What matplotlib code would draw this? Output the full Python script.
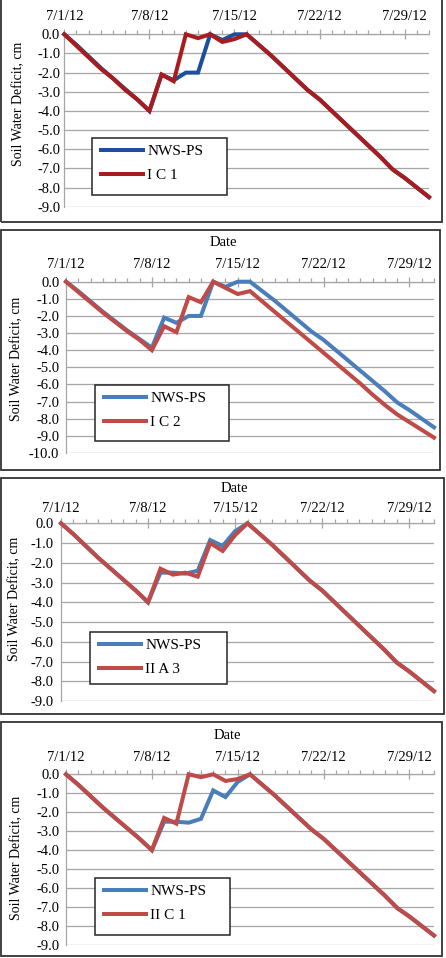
import matplotlib
matplotlib.use('Agg')
import matplotlib.pyplot as plt
import matplotlib.dates as mdates
from matplotlib.patches import Rectangle
from matplotlib.ticker import FormatStrFormatter, MultipleLocator
import pandas as pd

plt.rcParams['font.family'] = ['Liberation Serif', 'DejaVu Serif']
plt.rcParams['axes.unicode_minus'] = False

# --- data (soil water deficit, cm), one value per day 7/1/12 .. 7/31/12 ---
dates = pd.date_range('2012-07-01', '2012-07-31', freq='D')
date_ticks = ['7/1/12', '7/8/12', '7/15/12', '7/22/12', '7/29/12']
series_names = ['I C 1', 'I C 2', 'II A 3', 'II C 1']

nws_a = [0.0, -0.55, -1.15, -1.75, -2.3, -2.85, -3.4, -4.0, -2.1, -2.4, -2.0,
         -2.0, 0.0, -0.3, 0.0, 0.0, -0.55, -1.1, -1.7, -2.3, -2.9, -3.4, -4.0,
         -4.6, -5.2, -5.8, -6.4, -7.05, -7.5, -8.0, -8.5]
ic1 = [0.0, -0.6, -1.2, -1.8, -2.3, -2.9, -3.4, -4.0, -2.1, -2.45, 0.0,
       -0.2, 0.0, -0.4, -0.25, 0.0, -0.55, -1.1, -1.7, -2.3, -2.9, -3.4, -4.0,
       -4.6, -5.2, -5.8, -6.4, -7.05, -7.5, -8.0, -8.5]

nws_b = [0.0, -0.55, -1.15, -1.75, -2.3, -2.85, -3.35, -3.85, -2.1, -2.4, -2.0,
         -2.0, 0.0, -0.3, 0.0, 0.0, -0.55, -1.1, -1.7, -2.3, -2.9, -3.4, -4.0,
         -4.6, -5.2, -5.8, -6.4, -7.05, -7.5, -8.0, -8.5]
ic2 = [0.0, -0.6, -1.2, -1.8, -2.35, -2.9, -3.4, -4.0, -2.6, -2.95, -0.9,
       -1.2, 0.0, -0.36, -0.72, -0.55, -1.15, -1.75, -2.35, -2.95, -3.55, -4.15,
       -4.75, -5.35, -5.95, -6.6, -7.2, -7.75, -8.2, -8.65, -9.1]

nws_c = [0.0, -0.55, -1.15, -1.75, -2.3, -2.85, -3.4, -4.0, -2.5, -2.5, -2.55,
         -2.4, -0.85, -1.15, -0.4, 0.0, -0.55, -1.1, -1.7, -2.3, -2.9, -3.4, -4.0,
         -4.6, -5.2, -5.8, -6.4, -7.05, -7.5, -8.0, -8.5]
iia3 = [0.0, -0.55, -1.15, -1.75, -2.3, -2.85, -3.4, -4.0, -2.3, -2.6, -2.5,
        -2.7, -1.0, -1.4, -0.6, 0.0, -0.55, -1.1, -1.7, -2.3, -2.9, -3.4, -4.0,
        -4.6, -5.2, -5.8, -6.4, -7.05, -7.5, -8.0, -8.5]

nws_d = [0.0, -0.55, -1.15, -1.75, -2.3, -2.85, -3.4, -4.0, -2.5, -2.5, -2.55,
         -2.35, -0.85, -1.2, -0.4, 0.0, -0.55, -1.1, -1.7, -2.3, -2.9, -3.4, -4.0,
         -4.6, -5.2, -5.8, -6.4, -7.05, -7.5, -8.0, -8.5]
iic1 = [0.0, -0.55, -1.15, -1.75, -2.3, -2.85, -3.4, -4.0, -2.3, -2.6, 0.0,
        -0.15, 0.0, -0.35, -0.25, 0.0, -0.55, -1.1, -1.7, -2.3, -2.9, -3.4, -4.0,
        -4.6, -5.2, -5.8, -6.4, -7.05, -7.5, -8.0, -8.5]

nws_series = [nws_a, nws_b, nws_c, nws_d]
model_series = [ic1, ic2, iia3, iic1]
y_bottoms = [-9, -10, -9, -9]

# --- layout, in pixels of the 446 x 958 picture ---
W, H = 446, 958
# axes box: left, top, right, bottom
axes_px = [(64.3, 34.3, 429, 206.7), (66, 281.7, 434, 453),
           (61, 523.3, 434, 701), (66, 774.3, 434, 945)]
frames_px = [(1, -18, 442, 222), (1, 230, 440, 470),
             (1, 478, 444, 714), (1, 722, 442, 956)]
legend_px = [(92, 138, 227, 195), (95, 385, 229, 441),
             (90, 632, 227, 684), (95, 878, 230, 935)]
date_lbl_px = [(224, -4.5), (223, 242.3), (234, 489), (227, 735.7)]
ylab_px = [(18.3, 104), (17, 359), (15, 599), (17, 858)]
xpad = [5.2, 4.8, 2.4, 4.5]
ypad = [3.0, 4.8, 5.5, 4.8]
colors = [('#1c4f9e', '#a81c1e'), ('#4a7ebb', '#be4b48'),
          ('#4a7ebb', '#be4b48'), ('#4a7ebb', '#be4b48')]

grid_c = '#a6a6a6'
fig = plt.figure(figsize=(W / 100, H / 100), dpi=100)

for i in range(4):
    l, t, r, b = axes_px[i]
    ax = fig.add_axes([l / W, 1 - b / H, (r - l) / W, (b - t) / H])

    def to_ax(px, py):
        return (px - l) / (r - l), (b - py) / (b - t)

    c_nws, c_mod = colors[i]
    ax.plot(dates, nws_series[i], color=c_nws, lw=2.9, label='NWS-PS',
            clip_on=False, zorder=3, solid_joinstyle='miter')
    ax.plot(dates, model_series[i], color=c_mod, lw=2.9, label=series_names[i],
            clip_on=False, zorder=3.5, solid_joinstyle='miter')

    ax.set_xlim(dates[0], dates[-1])
    ax.set_ylim(y_bottoms[i], 0)
    ax.yaxis.set_major_locator(MultipleLocator(1.0))
    ax.yaxis.set_major_formatter(FormatStrFormatter('%.1f'))
    ax.grid(axis='y', color=grid_c, lw=0.9)
    ax.set_axisbelow(True)

    ax.xaxis.tick_top()
    ax.xaxis.set_label_position('top')
    ax.set_xticks(dates[::7])
    ax.set_xticklabels(date_ticks)
    ax.xaxis.set_minor_locator(mdates.DayLocator())
    ax.tick_params(axis='x', which='major', direction='inout', length=6.5,
                   width=0.9, color=grid_c, labelsize=10.5, pad=xpad[i])
    ax.tick_params(axis='x', which='minor', direction='out', length=2.8,
                   width=0.9, color=grid_c)
    ax.tick_params(axis='y', length=0, labelsize=10.5, pad=ypad[i])

    for s in ['bottom', 'right']:
        ax.spines[s].set_visible(False)
    for s in ['top', 'left']:
        ax.spines[s].set_color(grid_c)
        ax.spines[s].set_linewidth(0.9)

    ax.set_xlabel('Date', fontsize=10.5)
    ax.xaxis.set_label_coords(*to_ax(*date_lbl_px[i]))
    ax.xaxis.label.set_va('center')
    ax.set_ylabel('Soil Water Deficit, cm', fontsize=10)
    ax.yaxis.set_label_coords(*to_ax(*ylab_px[i]))
    ax.yaxis.label.set_va('center')

    # legend box drawn as a plain rectangle, Excel style
    lx0, ly0, lx1, ly1 = legend_px[i]
    x0, y1 = to_ax(lx0, ly0)
    x1, y0 = to_ax(lx1, ly1)
    ax.add_patch(Rectangle((x0, y0), x1 - x0, y1 - y0, transform=ax.transAxes,
                           facecolor='white', edgecolor='#262626', lw=1.1,
                           zorder=6, clip_on=False))
    leg = ax.legend(loc='upper left', bbox_to_anchor=to_ax(lx0 + 4, ly0 + 1),
                    frameon=False, fontsize=11, handlelength=2.7,
                    handletextpad=0.3, labelspacing=0.7, borderpad=0.35,
                    borderaxespad=0)
    leg.set_zorder(7)

    fl, ft, fr, fb = frames_px[i]
    fig.add_artist(Rectangle((fl / W, 1 - fb / H), (fr - fl) / W, (fb - ft) / H,
                             transform=fig.transFigure, fill=False,
                             edgecolor='#333333', lw=1.3))

fig.savefig('out.png', dpi=100)
